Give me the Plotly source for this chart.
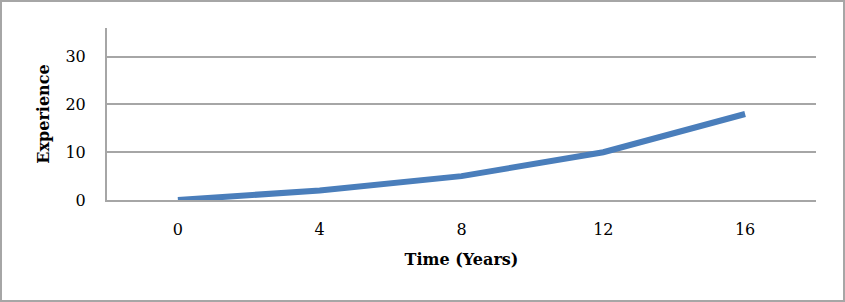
import plotly.graph_objects as go

time_years = ["0", "4", "8", "12", "16"]
experience = [0, 2, 5, 10, 18]

W, H = 845, 302
ML, MR, MT, MB = 107, 29, 28, 102
pw, ph = W - ML - MR, H - MT - MB

font_family = "DejaVu Serif"

fig = go.Figure()
fig.add_trace(go.Scatter(
    x=time_years, y=experience, mode="lines",
    line=dict(color="#4A7EBB", width=6),
    showlegend=False, hoverinfo="skip",
))

fig.update_layout(
    width=W, height=H,
    margin=dict(l=ML, r=MR, t=MT, b=MB),
    paper_bgcolor="white", plot_bgcolor="white",
    font=dict(family=font_family, size=16, color="black"),
    xaxis=dict(
        type="category", range=[-0.5, 4.5],
        showgrid=False, showline=True, linecolor="#A6A6A6", linewidth=2,
        ticks="", ticklabelstandoff=14,
        title=dict(text="<b>Time (Years)</b>", font=dict(size=16), standoff=16),
        zeroline=False,
    ),
    yaxis=dict(
        range=[0, 36], tickvals=[0, 10, 20, 30],
        showgrid=True, gridcolor="#A6A6A6", gridwidth=2,
        showline=True, linecolor="#A6A6A6", linewidth=2,
        ticks="", ticklabelstandoff=16, zeroline=False,
        title=dict(text="<b>Experience</b>", font=dict(size=16), standoff=12),
    ),
    shapes=[dict(
        type="rect", xref="paper", yref="paper",
        x0=(-ML + 1) / pw, x1=(W - ML - 1) / pw,
        y0=(-MB + 1) / ph, y1=(H - MB - 1) / ph,
        line=dict(color="#A6A6A6", width=2), layer="below",
    )],
)

fig.write_html("out.html")
